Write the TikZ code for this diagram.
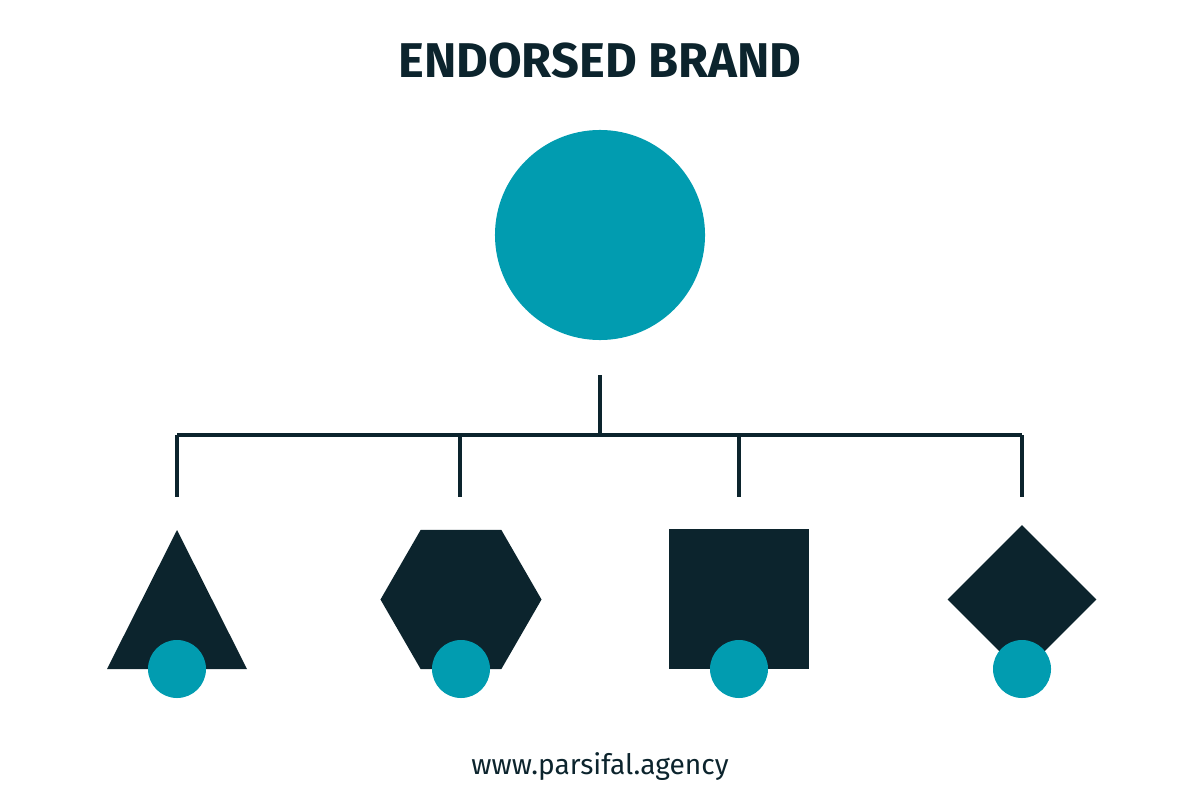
\documentclass[tikz,border=0pt]{standalone}
\usepackage{fontspec}
\setmainfont{Fira Sans}
\usetikzlibrary{shapes.geometric}
\definecolor{marca}{HTML}{019CB0}
\definecolor{oscuro}{HTML}{0C242D}

\tikzset{
  madre/.style={circle, fill=marca, inner sep=0pt, minimum size=5.25cm},
  hija/.style={circle, fill=marca, inner sep=0pt, minimum size=1.45cm},
  forma/.style={fill=oscuro, inner sep=0pt},
  rama/.style={oscuro, line width=2.2pt},
}

\begin{document}
\begin{tikzpicture}[x=0.025cm, y=-0.025cm]

    \useasboundingbox (0,0) rectangle (1200,800);

    % titulo
    \node[anchor=base, text=oscuro, font=\bfseries\fontsize{34.7}{40}\selectfont] (titulo) at (600,78) {ENDORSED BRAND};

    % marca madre
    \node[madre] (brand) at (600,235) {};

    % lineas
    \coordinate (tallo) at (600,375);
    \coordinate (cruce) at (600,435);
    \coordinate (b1) at (177,435);
    \coordinate (b2) at (460,435);
    \coordinate (b3) at (739,435);
    \coordinate (b4) at (1022,435);
    \coordinate (e1) at (177,497);
    \coordinate (e2) at (460,497);
    \coordinate (e3) at (739,497);
    \coordinate (e4) at (1022,497);
    \draw[rama, line width=2.6pt] (tallo) -- (cruce);
    \draw[rama, line width=3pt] (b1) -- (b4);
    \draw[rama] (b1) -- (e1);
    \draw[rama] (b2) -- (e2);
    \draw[rama] (b3) -- (e3);
    \draw[rama] (b4) -- (e4);

    % triangulo
    \coordinate (t1) at (177,530);
    \coordinate (t2) at (247,669);
    \coordinate (t3) at (107,669);
    \fill[oscuro] (t1) -- (t2) -- (t3) -- cycle;

    % hexagono
    \node[forma, regular polygon, regular polygon sides=6, minimum size=4.025cm] (hexa) at (461,599.5) {};

    % cuadrado
    \node[forma, rectangle, minimum size=3.5cm] (cuadro) at (739,599) {};

    % rombo
    \node[forma, diamond, minimum width=3.725cm, minimum height=3.725cm] (rombo) at (1022,599.5) {};

    % marcas hijas
    \node[hija] (h1) at (177,669) {};
    \node[hija] (h2) at (461,669) {};
    \node[hija] (h3) at (739,669) {};
    \node[hija] (h4) at (1022,669) {};

    % pie
    \node[anchor=base, text=oscuro, font=\fontsize{20}{24}\selectfont] (web) at (600,774) {www.parsifal.agency};

\end{tikzpicture}
\end{document}
